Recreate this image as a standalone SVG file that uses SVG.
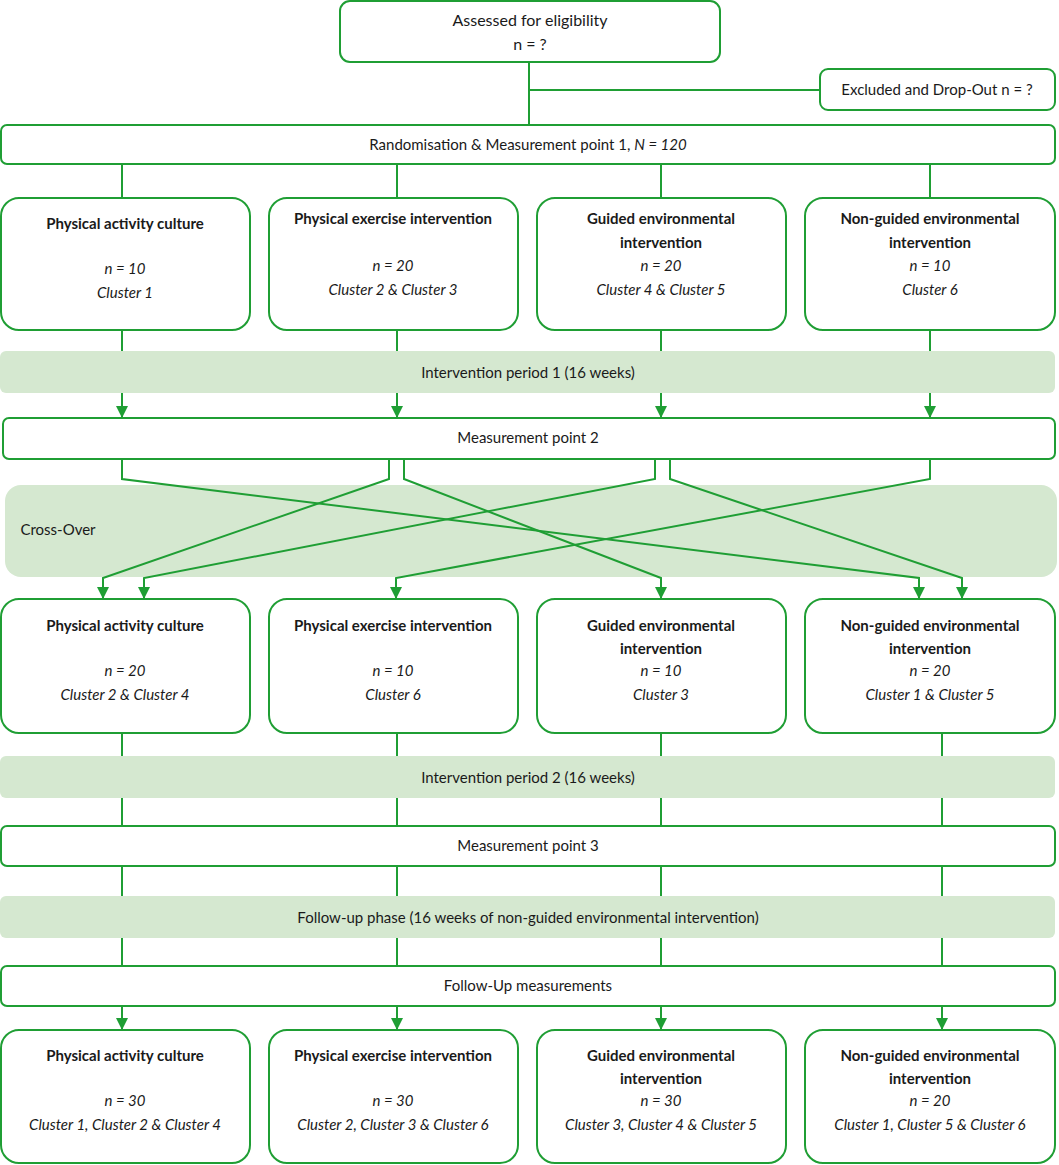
<svg xmlns="http://www.w3.org/2000/svg" width="1059" height="1165" viewBox="0 0 1059 1165">
<style>
text{font-family:Lato,"Open Sans",sans-serif;font-size:15px;fill:#1a1a1a;text-anchor:middle}
.b{font-weight:bold}.i{font-style:italic}
.box{fill:#fff;stroke:#1f9e34;stroke-width:2}
.band{fill:#d5e8d0}
.c{stroke:#1f9e34;stroke-width:2;fill:none}
</style>
<defs><marker id="ah" viewBox="0 0 10 10" refX="10" refY="5" markerWidth="12" markerHeight="12" orient="auto" markerUnits="userSpaceOnUse"><path d="M0,0L10,5L0,10z" fill="#1f9e34"/></marker></defs>
<rect class="band" x="5" y="485" width="1052" height="92" rx="16"/>
<text x="58" y="535">Cross-Over</text>
<g id="connectors">
<path class="c" d="M529,62V125M529,90H820"/>
<path class="c" d="M122,164V198M397,164V198M661,164V198M930,164V198"/>
<path class="c" marker-end="url(#ah)" d="M122,330V418"/>
<path class="c" marker-end="url(#ah)" d="M397,330V418"/>
<path class="c" marker-end="url(#ah)" d="M661,330V418"/>
<path class="c" marker-end="url(#ah)" d="M930,330V418"/>
<path class="c" marker-end="url(#ah)" d="M122,459V479L919,578V599"/>
<path class="c" marker-end="url(#ah)" d="M389,459V479L103,578V599"/>
<path class="c" marker-end="url(#ah)" d="M404,459V479L661,578V599"/>
<path class="c" marker-end="url(#ah)" d="M655,459V479L144,578V599"/>
<path class="c" marker-end="url(#ah)" d="M670,459V479L962,578V599"/>
<path class="c" marker-end="url(#ah)" d="M930,459V479L396,578V599"/>
<path class="c" marker-end="url(#ah)" d="M122,733V1030"/>
<path class="c" marker-end="url(#ah)" d="M397,733V1030"/>
<path class="c" marker-end="url(#ah)" d="M661,733V1030"/>
<path class="c" marker-end="url(#ah)" d="M942,733V1030"/>
</g>
<rect class="band" x="0" y="351" width="1055" height="42" rx="6"/>
<rect class="band" x="0" y="756" width="1055" height="42" rx="6"/>
<rect class="band" x="0" y="896" width="1055" height="42" rx="6"/>
<text x="528" y="378">Intervention period 1 (16 weeks)</text>
<text x="528" y="783">Intervention period 2 (16 weeks)</text>
<text x="528" y="923">Follow-up phase (16 weeks of non-guided environmental intervention)</text>
<g id="assessed"><rect class="box" x="340" y="1" width="380" height="61" rx="10"/><text x="530" y="26" style="font-size:16px">Assessed for eligibility</text><text x="530" y="50" style="font-size:16px">n = ?</text></g>
<g id="excluded"><rect class="box" x="820" y="69" width="235" height="41" rx="8"/><text x="937" y="95">Excluded and Drop-Out n = ?</text></g>
<g id="mp1"><rect class="box" x="1" y="125" width="1054" height="39" rx="6"/><text x="528" y="150">Randomisation &amp; Measurement point 1, <tspan class="i">N = 120</tspan></text></g>
<g id="mp2"><rect class="box" x="3" y="418" width="1052" height="41" rx="6"/><text x="528" y="443">Measurement point 2</text></g>
<g id="mp3"><rect class="box" x="1" y="826" width="1054" height="40" rx="6"/><text x="528" y="851">Measurement point 3</text></g>
<g id="fum"><rect class="box" x="1" y="966" width="1054" height="40" rx="6"/><text x="528" y="991">Follow-Up measurements</text></g>
<g id="r1c1"><rect class="box" x="1" y="198" width="249" height="132" rx="18"/><text class="b" x="125" y="229">Physical activity culture</text><text class="i" x="125" y="274">n = 10</text><text class="i" x="125" y="298">Cluster 1</text></g>
<g id="r1c2"><rect class="box" x="269" y="198" width="249" height="132" rx="18"/><text class="b" x="393" y="224">Physical exercise intervention</text><text class="i" x="393" y="271">n = 20</text><text class="i" x="393" y="295">Cluster 2 &amp; Cluster 3</text></g>
<g id="r1c3"><rect class="box" x="537" y="198" width="249" height="132" rx="18"/><text class="b" x="661" y="224">Guided environmental</text><text class="b" x="661" y="248">intervention</text><text class="i" x="661" y="271">n = 20</text><text class="i" x="661" y="295">Cluster 4 &amp; Cluster 5</text></g>
<g id="r1c4"><rect class="box" x="805" y="198" width="250" height="132" rx="18"/><text class="b" x="930" y="224">Non-guided environmental</text><text class="b" x="930" y="248">intervention</text><text class="i" x="930" y="271">n = 10</text><text class="i" x="930" y="295">Cluster 6</text></g>
<g id="r2c1"><rect class="box" x="1" y="599" width="249" height="134" rx="18"/><text class="b" x="125" y="631">Physical activity culture</text><text class="i" x="125" y="676">n = 20</text><text class="i" x="125" y="700">Cluster 2 &amp; Cluster 4</text></g>
<g id="r2c2"><rect class="box" x="269" y="599" width="249" height="134" rx="18"/><text class="b" x="393" y="631">Physical exercise intervention</text><text class="i" x="393" y="676">n = 10</text><text class="i" x="393" y="700">Cluster 6</text></g>
<g id="r2c3"><rect class="box" x="537" y="599" width="249" height="134" rx="18"/><text class="b" x="661" y="631">Guided environmental</text><text class="b" x="661" y="654">intervention</text><text class="i" x="661" y="676">n = 10</text><text class="i" x="661" y="700">Cluster 3</text></g>
<g id="r2c4"><rect class="box" x="805" y="599" width="250" height="134" rx="18"/><text class="b" x="930" y="631">Non-guided environmental</text><text class="b" x="930" y="654">intervention</text><text class="i" x="930" y="676">n = 20</text><text class="i" x="930" y="700">Cluster 1 &amp; Cluster 5</text></g>
<g id="r3c1"><rect class="box" x="1" y="1030" width="249" height="133" rx="18"/><text class="b" x="125" y="1061">Physical activity culture</text><text class="i" x="125" y="1106">n = 30</text><text class="i" x="125" y="1130">Cluster 1, Cluster 2 &amp; Cluster 4</text></g>
<g id="r3c2"><rect class="box" x="269" y="1030" width="249" height="133" rx="18"/><text class="b" x="393" y="1061">Physical exercise intervention</text><text class="i" x="393" y="1106">n = 30</text><text class="i" x="393" y="1130">Cluster 2, Cluster 3 &amp; Cluster 6</text></g>
<g id="r3c3"><rect class="box" x="537" y="1030" width="249" height="133" rx="18"/><text class="b" x="661" y="1061">Guided environmental</text><text class="b" x="661" y="1084">intervention</text><text class="i" x="661" y="1106">n = 30</text><text class="i" x="661" y="1130">Cluster 3, Cluster 4 &amp; Cluster 5</text></g>
<g id="r3c4"><rect class="box" x="805" y="1030" width="250" height="133" rx="18"/><text class="b" x="930" y="1061">Non-guided environmental</text><text class="b" x="930" y="1084">intervention</text><text class="i" x="930" y="1106">n = 20</text><text class="i" x="930" y="1130">Cluster 1, Cluster 5 &amp; Cluster 6</text></g>
</svg>
